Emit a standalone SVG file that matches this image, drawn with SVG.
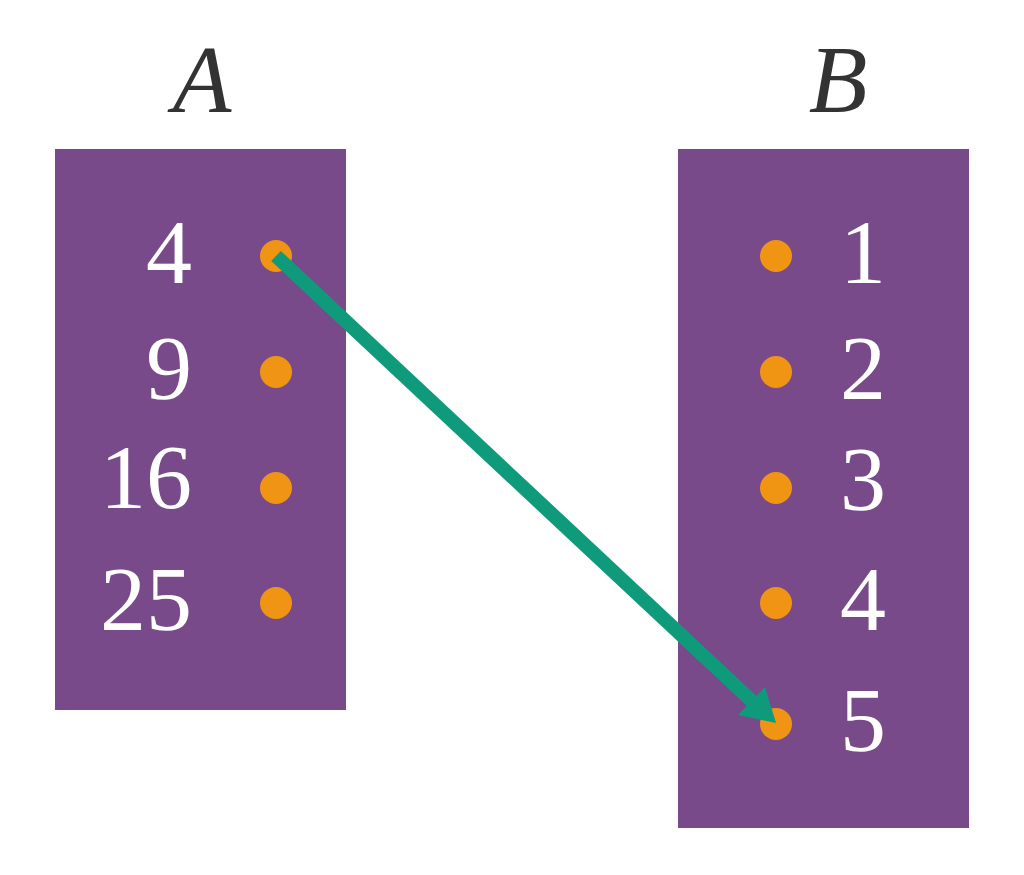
<svg xmlns="http://www.w3.org/2000/svg" width="1024" height="875" viewBox="0 0 1024 875">
<style>
.box{fill:#784A8A}
.dot{fill:#EF9413}
.num{fill:#FFFFFF;font-family:"Liberation Serif","DejaVu Serif",serif;font-size:92px}
.title{fill:#333333;font-family:"Liberation Serif","DejaVu Serif",serif;font-style:italic;font-size:96px}
.conn{stroke:#0F9A7C;stroke-width:14;fill:none}
</style>
<defs>
<marker id="ah" markerUnits="userSpaceOnUse" viewBox="0 0 40 40" refX="38" refY="20" markerWidth="40" markerHeight="40" orient="auto">
<path d="M0,0 L40,20 L0,40 Z" fill="#0F9A7C"/>
</marker>
</defs>
<rect width="1024" height="875" fill="#FFFFFF"/>
<g id="setA">
<rect class="box" x="55" y="149" width="291" height="561"/>
<text class="title" x="202" y="112" text-anchor="middle">A</text>
</g>
<g id="setB">
<rect class="box" x="678" y="149" width="291" height="679"/>
<text class="title" x="838" y="112" text-anchor="middle">B</text>
</g>
<g id="a4"><circle class="dot" cx="276" cy="256" r="16"/><text class="num" x="192" y="283" text-anchor="end">4</text></g>
<g id="a9"><circle class="dot" cx="276" cy="372" r="16"/><text class="num" x="192" y="399" text-anchor="end">9</text></g>
<g id="a16"><circle class="dot" cx="276" cy="488" r="16"/><text class="num" x="192" y="508" text-anchor="end">16</text></g>
<g id="a25"><circle class="dot" cx="276" cy="603" r="16"/><text class="num" x="192" y="630" text-anchor="end">25</text></g>
<g id="b1"><circle class="dot" cx="776" cy="256" r="16"/><text class="num" x="840" y="283">1</text></g>
<g id="b2"><circle class="dot" cx="776" cy="372" r="16"/><text class="num" x="840" y="399">2</text></g>
<g id="b3"><circle class="dot" cx="776" cy="488" r="16"/><text class="num" x="840" y="510">3</text></g>
<g id="b4"><circle class="dot" cx="776" cy="603" r="16"/><text class="num" x="840" y="630">4</text></g>
<g id="b5"><circle class="dot" cx="776" cy="724" r="16"/><text class="num" x="840" y="751">5</text></g>
<g id="connectors">
<line class="conn" x1="276" y1="256" x2="755" y2="704"/>
<path d="M776,723 L738,715 L765,687 Z" fill="#0F9A7C"/>
</g>
</svg>
